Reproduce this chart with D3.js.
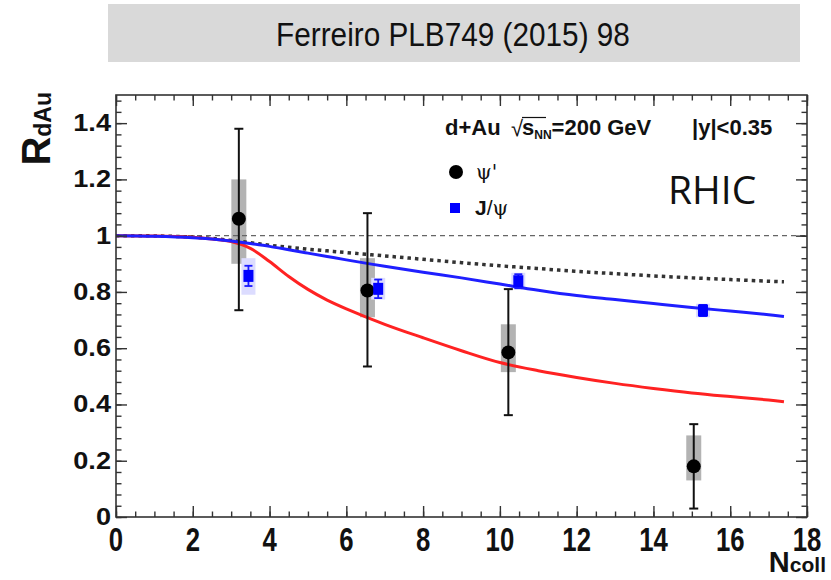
<!DOCTYPE html>
<html><head><meta charset="utf-8">
<script src="https://cdn.jsdelivr.net/npm/d3@7"></script>
<style>body{margin:0;background:#fff}svg{display:block}</style>
</head><body>
<svg id="chart" width="831" height="580"></svg>
<script>
// psi(2S) measurement: value, statistical and systematic ranges
const psiNcoll = [3.2, 6.55, 10.22, 15.05];
const psiR = [1.06, 0.805, 0.585, 0.18];
const psiStatLow = [0.735, 0.535, 0.362, 0.03];
const psiStatHigh = [1.38, 1.08, 0.81, 0.33];
const psiSysLow = [0.90, 0.71, 0.515, 0.13];
const psiSysHigh = [1.20, 0.92, 0.685, 0.29];

// J/psi measurement
const jpsiNcoll = [3.45, 6.83, 10.48, 15.29];
const jpsiR = [0.857, 0.811, 0.838, 0.734];
const jpsiStat = [0.036, 0.033, 0.025, 0.02];
const jpsiSysLow = [0.79, 0.773, 0.81, 0.71];
const jpsiSysHigh = [0.92, 0.85, 0.868, 0.758];

// model curves
const curveNcoll = [0,1,2,2.5,3,3.5,4,4.5,5,5.5,6,7,8,9,10,11,12,13,14,15,16,17,17.4];
const shadowingR = [1.0,0.999,0.995,0.990,0.983,0.975,0.966,0.959,0.952,0.946,0.940,0.928,0.916,0.904,0.893,0.883,0.873,0.865,0.857,0.850,0.844,0.838,0.836];
const jpsiModelR = [1.0,0.998,0.993,0.988,0.981,0.972,0.962,0.950,0.938,0.926,0.914,0.891,0.870,0.850,0.828,0.806,0.787,0.773,0.759,0.745,0.732,0.719,0.713];
const psiModelR = [1.0,0.999,0.994,0.988,0.979,0.955,0.908,0.855,0.809,0.771,0.740,0.685,0.637,0.591,0.549,0.520,0.496,0.475,0.457,0.441,0.428,0.416,0.410];

// axes
const xTicks = [0,2,4,6,8,10,12,14,16,18];
const xTickLabels = ["0","2","4","6","8","10","12","14","16","18"];
const yTicks = [0,0.2,0.4,0.6,0.8,1.0,1.2,1.4];
const yTickLabels = ["0","0.2","0.4","0.6","0.8","1","1.2","1.4"];

const svg = d3.select("#chart");
const L = 116, R = 807, T = 95, B = 517;
const x = d3.scaleLinear().domain([0, 18]).range([L, R]);
const y = d3.scaleLinear().domain([0, 1.5]).range([B, T]);
const font = "'Liberation Sans', Arial, Helvetica, sans-serif";

// header banner
svg.append("rect").attr("x", 108).attr("y", 4).attr("width", 692).attr("height", 58).attr("fill", "#d9d9d9");
svg.append("text").attr("transform", "translate(453,34) scale(0.96,1.08)").attr("text-anchor", "middle").attr("dominant-baseline", "central")
  .attr("font-family", font).attr("font-size", 31).attr("fill", "#111").text("Ferreiro PLB749 (2015) 98");

// systematic boxes
const idx = d3.range(psiNcoll.length);
svg.append("g").selectAll("rect").data(idx).join("rect")
  .attr("x", i => x(psiNcoll[i]) - 7.5).attr("width", 15)
  .attr("y", i => y(psiSysHigh[i])).attr("height", i => y(psiSysLow[i]) - y(psiSysHigh[i]))
  .attr("fill", "#b3b3b3");
svg.append("g").selectAll("rect").data(idx).join("rect")
  .attr("x", i => x(jpsiNcoll[i]) - 7).attr("width", 14)
  .attr("y", i => y(jpsiSysHigh[i])).attr("height", i => y(jpsiSysLow[i]) - y(jpsiSysHigh[i]))
  .attr("fill", "#dcdcff");

// reference line at unity
svg.append("line").attr("x1", x(0)).attr("x2", x(18)).attr("y1", y(1)).attr("y2", y(1))
  .attr("stroke", "#666").attr("stroke-width", 1.3).attr("stroke-dasharray", "5,4");

// model curves
const line = vals => d3.line().curve(d3.curveCatmullRom.alpha(0.5)).x((d, i) => x(curveNcoll[i])).y(d => y(d))(vals);
svg.append("path").attr("d", line(shadowingR)).attr("fill", "none").attr("stroke", "#333")
  .attr("stroke-width", 3.5).attr("stroke-dasharray", "3.5,4");
svg.append("path").attr("d", line(psiModelR)).attr("fill", "none").attr("stroke", "#ff2222").attr("stroke-width", 3);
svg.append("path").attr("d", line(jpsiModelR)).attr("fill", "none").attr("stroke", "#1f1fff").attr("stroke-width", 3);

// psi' error bars and markers
const gp = svg.append("g").attr("stroke", "#111").attr("stroke-width", 2);
idx.forEach(i => {
  const cx = x(psiNcoll[i]);
  gp.append("line").attr("x1", cx).attr("x2", cx).attr("y1", y(psiStatHigh[i])).attr("y2", y(psiStatLow[i]));
  [psiStatHigh[i], psiStatLow[i]].forEach(v => gp.append("line").attr("x1", cx - 4.5).attr("x2", cx + 4.5).attr("y1", y(v)).attr("y2", y(v)));
});
svg.append("g").selectAll("circle").data(idx).join("circle")
  .attr("cx", i => x(psiNcoll[i])).attr("cy", i => y(psiR[i])).attr("r", 7).attr("fill", "#000");

// J/psi error bars and markers
const gj = svg.append("g").attr("stroke", "#1a1aff").attr("stroke-width", 1.8);
idx.forEach(i => {
  const cx = x(jpsiNcoll[i]);
  const hi = jpsiR[i] + jpsiStat[i], lo = jpsiR[i] - jpsiStat[i];
  gj.append("line").attr("x1", cx).attr("x2", cx).attr("y1", y(hi)).attr("y2", y(lo));
  [hi, lo].forEach(v => gj.append("line").attr("x1", cx - 4).attr("x2", cx + 4).attr("y1", y(v)).attr("y2", y(v)));
});
svg.append("g").selectAll("rect").data(idx).join("rect")
  .attr("x", i => x(jpsiNcoll[i]) - 5).attr("y", i => y(jpsiR[i]) - 6).attr("width", 10).attr("height", 12)
  .attr("fill", "#0000ff");

// frame and ticks (inward, on all four sides)
const minorX = d3.range(0, 18.01, 0.5);
const minorY = d3.range(0, 1.501, 0.04);
function tickAxis(axisFn, scale, major, minor, tf) {
  const g1 = svg.append("g").attr("transform", tf).call(axisFn(scale).tickValues(major).tickSize(-11).tickFormat(""));
  const g2 = svg.append("g").attr("transform", tf).call(axisFn(scale).tickValues(minor).tickSize(-5.5).tickFormat(""));
  [g1, g2].forEach(g => { g.selectAll(".domain").remove(); g.selectAll("line").attr("stroke", "#333").attr("stroke-width", 1.4); });
}
tickAxis(d3.axisBottom, x, xTicks, minorX, `translate(0,${B})`);
tickAxis(d3.axisTop, x, xTicks, minorX, `translate(0,${T})`);
tickAxis(d3.axisLeft, y, yTicks, minorY, `translate(${L},0)`);
tickAxis(d3.axisRight, y, yTicks, minorY, `translate(${R},0)`);
svg.append("rect").attr("x", L).attr("y", T).attr("width", R - L).attr("height", B - T)
  .attr("fill", "none").attr("stroke", "#333").attr("stroke-width", 1.6);

// tick labels
svg.append("g").selectAll("text").data(xTicks).join("text")
  .attr("transform", d => `translate(${x(d)},${551}) scale(0.78,1)`)
  .attr("text-anchor", "middle").attr("font-family", font).attr("font-weight", "bold").attr("font-size", 33)
  .attr("fill", "#111").text((d, i) => xTickLabels[i]);
svg.append("g").selectAll("text").data(yTicks).join("text")
  .attr("transform", d => `translate(${L - 5},${y(d) + 8}) scale(1.18,1)`)
  .attr("text-anchor", "end").attr("font-family", font).attr("font-weight", "bold").attr("font-size", 23)
  .attr("fill", "#111").text((d, i) => yTickLabels[i]);

// axis titles
const yt = svg.append("text").attr("transform", `translate(50,92) rotate(-90)`).attr("text-anchor", "end")
  .attr("font-family", font).attr("font-weight", "bold").attr("fill", "#111");
yt.append("tspan").attr("font-size", 40).text("R");
yt.append("tspan").attr("font-size", 23).attr("dy", 1).text("dAu");
const xt = svg.append("text").attr("x", 826).attr("y", 572).attr("text-anchor", "end")
  .attr("font-family", font).attr("font-weight", "bold").attr("fill", "#111");
xt.append("tspan").attr("font-size", 29).text("N");
xt.append("tspan").attr("font-size", 21).text("coll");

// legend header
const lg = svg.append("g").attr("font-family", font).attr("font-weight", "bold").attr("fill", "#111");
lg.append("text").attr("x", 445).attr("y", 135).attr("font-size", 22).text("d+Au");
lg.append("text").attr("x", 511).attr("y", 136).attr("font-size", 22).attr("font-weight", "normal").text("\u221A");
lg.append("line").attr("x1", 522).attr("x2", 546).attr("y1", 117.5).attr("y2", 117.5).attr("stroke", "#111").attr("stroke-width", 1.2);
const sn = lg.append("text").attr("x", 522).attr("y", 135).attr("font-size", 22);
sn.append("tspan").text("s");
sn.append("tspan").attr("font-size", 12).attr("dy", 4).text("NN");
sn.append("tspan").attr("dy", -4).text("=200 GeV");
lg.append("text").attr("x", 692).attr("y", 135).attr("font-size", 22).text("|y|<0.35");

// legend entries
svg.append("circle").attr("cx", 456).attr("cy", 172).attr("r", 7).attr("fill", "#000");
svg.append("text").attr("x", 476).attr("y", 179).attr("font-family", "'DejaVu Serif', serif").attr("font-size", 20)
  .attr("fill", "#111").text("\u03C8'");
svg.append("rect").attr("x", 450).attr("y", 203).attr("width", 10).attr("height", 10).attr("fill", "#0000ff");
const jl = svg.append("text").attr("x", 475).attr("y", 215).attr("font-family", font).attr("font-size", 21).attr("fill", "#111");
jl.append("tspan").attr("font-weight", "bold").text("J");
jl.append("tspan").text("/");
jl.append("tspan").attr("font-family", "'DejaVu Serif', serif").attr("font-size", 20).text("\u03C8");

// collider label
svg.append("text").attr("x", 668).attr("y", 204).attr("font-family", "'Open Sans', sans-serif").attr("font-size", 39)
  .attr("fill", "#111").text("RHIC");
</script>
</body></html>
